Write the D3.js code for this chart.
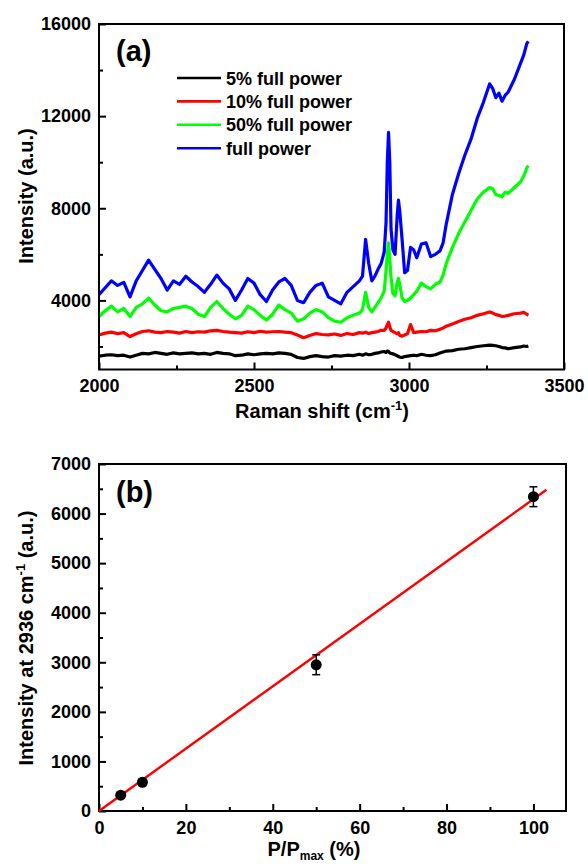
<!DOCTYPE html>
<html lang="en">
<head>
  <meta charset="UTF-8">
  <title>Raman spectra vs laser power</title>
  <script src="https://d3js.org/d3.v7.min.js"></script>
  <style>
    body { margin: 0; background: #fff; }
    svg text { font-family: "Liberation Sans", Arial, sans-serif; font-weight: bold; fill: #000; }
    .axis .domain { display: none; }
    .axis line { stroke: #000; stroke-width: 2; }
  </style>
</head>
<body>
  <svg id="fig" width="588" height="864"></svg>
  <script>
    // ---- panel (a) data: Raman shift (cm-1) and intensity per power level
    const ramanShift = [
      2000,2020,2040,2060,2080,2100,2120,2140,2160,2180,
      2200,2220,2240,2260,2280,2300,2320,2340,2360,2380,
      2400,2420,2440,2460,2480,2500,2520,2540,2560,2580,
      2600,2620,2640,2660,2680,2700,2720,2740,2760,2780,
      2800,2820,2840,2850,2860,2870,2880,2890,2900,2910,
      2920,2926,2930,2934,2938,2942,2948,2955,2962,2966,
      2970,2978,2986,2995,3005,3015,3025,3040,3055,3070,
      3085,3100,3110,3120,3140,3160,3180,3200,3220,3240,
      3260,3270,3280,3290,3300,3310,3320,3340,3360,3370,
      3380,3385
    ];
    const power5 = [
      1580,1620,1640,1600,1620,1540,1620,1700,1680,1740,
      1700,1660,1720,1680,1700,1720,1680,1700,1660,1740,
      1700,1680,1600,1620,1680,1640,1680,1700,1680,1720,
      1700,1660,1520,1480,1560,1600,1560,1540,1600,1580,
      1620,1600,1660,1620,1680,1640,1660,1700,1720,1760,
      1780,1740,1800,1780,1720,1700,1680,1640,1600,1560,
      1540,1520,1560,1580,1600,1620,1600,1660,1620,1600,
      1640,1720,1760,1800,1820,1880,1900,1950,2000,2030,
      2060,2050,2030,2000,1950,1940,1900,1950,1980,2020,
      2000,2020
    ];
    const power10 = [
      2500,2580,2620,2560,2600,2430,2550,2650,2680,2620,
      2600,2650,2620,2580,2650,2600,2640,2620,2680,2700,
      2650,2620,2600,2580,2640,2600,2660,2620,2640,2650,
      2620,2600,2500,2380,2480,2560,2520,2500,2540,2480,
      2560,2520,2600,2580,2620,2560,2600,2620,2650,2700,
      2700,2800,2950,3050,2850,2700,2650,2600,2550,2600,
      2480,2450,2500,2550,2950,2600,2620,2650,2640,2700,
      2680,2750,2800,2880,2980,3080,3180,3250,3350,3420,
      3500,3450,3380,3350,3300,3320,3350,3420,3450,3480,
      3400,3350
    ];
    const power50 = [
      3300,3550,3750,3500,3650,3300,3700,3850,4100,3800,
      3550,3500,3650,3700,3750,3650,3400,3300,3700,3950,
      3650,3400,3200,3350,3750,3600,3350,3150,3400,3800,
      3600,3450,3100,3200,3450,3600,3500,3250,3100,3050,
      3250,3350,3450,3600,4350,3700,3500,3700,3900,4100,
      4400,5300,6000,6500,5800,5000,4300,4200,4800,4950,
      4700,4100,3950,4000,4100,4250,4400,4750,4600,4500,
      4700,4800,5100,5600,6300,6900,7400,7900,8400,8700,
      8900,8850,8600,8550,8500,8700,8650,8900,9150,9400,
      9750,9850
    ];
    const powerFull = [
      4250,4550,4850,4650,4780,4150,4850,5300,5750,5350,
      4950,4450,4850,4700,5050,4800,4600,4350,4700,5100,
      4750,4500,4000,4450,4950,4750,4250,3950,4450,4800,
      4950,4650,4000,3900,4350,4650,4750,4150,4000,3850,
      4350,4600,4850,5050,6650,5600,4850,5050,5350,5600,
      6100,7400,10000,11300,10000,7100,6200,6000,7700,8350,
      7900,6600,5200,5300,6300,6200,5850,6450,6500,5900,
      6000,6150,6500,7300,8600,9500,10300,11000,11900,12600,
      13400,13200,12800,13000,12650,12900,13050,13600,14300,14650,
      15150,15250
    ];
    const seriesLabels = ["5% full power", "10% full power", "50% full power", "full power"];
    const seriesColors = ["#000000", "#ff0000", "#00ff00", "#0000ff"];

    const shiftTicks = [2000, 2500, 3000, 3500];
    const shiftMinor = [2250, 2750, 3250];
    const intensityTicks = [4000, 8000, 12000, 16000];
    const intensityMinor = [2000, 6000, 10000, 14000];

    // ---- panel (b) data: intensity at 2936 cm-1 vs relative power
    const powerPct = [5, 10, 50, 100];
    const peakIntensity = [320, 580, 2950, 6340];
    const peakError = [60, 60, 200, 200];
    const fitX = [0, 103];
    const fitY = [0, 6480];

    const pctTicks = [0, 20, 40, 60, 80, 100];
    const pctMinor = [10, 30, 50, 70, 90];
    const peakTicks = [0, 1000, 2000, 3000, 4000, 5000, 6000, 7000];
    const peakMinor = [500, 1500, 2500, 3500, 4500, 5500, 6500];

    const svg = d3.select("svg#fig");

    // helper: inward ticks with separate minor ticks, box drawn separately
    function drawAxes(g, x, y, xt, xm, yt, ym, xFmt, yFmt) {
      let [x0, x1] = x.range();
      let [y0, y1] = y.range();
      g.append("g").attr("class", "axis")
        .attr("transform", `translate(0,${y0})`)
        .call(d3.axisBottom(x).tickValues(xt).tickSize(-7).tickPadding(10).tickFormat(xFmt))
        .selectAll("text").style("font-size", "18px");
      g.append("g").attr("class", "axis")
        .attr("transform", `translate(0,${y0})`)
        .call(d3.axisBottom(x).tickValues(xm).tickSize(-4).tickFormat(""));
      g.append("g").attr("class", "axis")
        .attr("transform", `translate(${x0},0)`)
        .call(d3.axisLeft(y).tickValues(yt).tickSize(-7).tickPadding(8).tickFormat(yFmt))
        .selectAll("text").style("font-size", "18px");
      g.append("g").attr("class", "axis")
        .attr("transform", `translate(${x0},0)`)
        .call(d3.axisLeft(y).tickValues(ym).tickSize(-4).tickFormat(""));
      g.append("rect")
        .attr("x", x0).attr("y", y1)
        .attr("width", x1 - x0).attr("height", y0 - y1)
        .attr("fill", "none").attr("stroke", "#000").attr("stroke-width", 2);
    }

    // ================= panel (a)
    const xA = d3.scaleLinear().domain([2000, 3500]).range([99, 564]);
    const yA = d3.scaleLinear().domain([1000, 16000]).range([369.5, 24]);
    const panelA = svg.append("g").attr("id", "panelA");

    const spectra = [power5, power10, power50, powerFull];
    const lineA = d3.line()
      .x((d, i) => xA(ramanShift[i]))
      .y(d => yA(d));

    spectra.forEach((s, k) => {
      panelA.append("path")
        .datum(s)
        .attr("fill", "none")
        .attr("stroke", seriesColors[k])
        .attr("stroke-width", 3.2)
        .attr("stroke-linejoin", "round")
        .attr("d", lineA);
    });

    drawAxes(panelA, xA, yA, shiftTicks, shiftMinor, intensityTicks, intensityMinor, d3.format("d"), d3.format("d"));

    // legend
    seriesLabels.forEach((lab, k) => {
      let ly = 78 + k * 23.4;
      panelA.append("line")
        .attr("x1", 177).attr("x2", 221)
        .attr("y1", ly).attr("y2", ly)
        .attr("stroke", seriesColors[k]).attr("stroke-width", 2.6);
      panelA.append("text")
        .attr("x", 226).attr("y", ly + 6.5)
        .style("font-size", "18px")
        .text(lab);
    });

    panelA.append("text")
      .attr("x", 116).attr("y", 61)
      .style("font-size", "29px")
      .text("(a)");

    panelA.append("text")
      .attr("transform", "translate(33,196) rotate(-90)")
      .attr("text-anchor", "middle")
      .style("font-size", "20px")
      .text("Intensity (a.u.)");

    let xTitleA = panelA.append("text")
      .attr("x", 322).attr("y", 418)
      .attr("text-anchor", "middle")
      .style("font-size", "20px");
    xTitleA.append("tspan").text("Raman shift (cm");
    xTitleA.append("tspan").attr("dy", -8).style("font-size", "13px").text("-1");
    xTitleA.append("tspan").attr("dy", 8).text(")");

    // ================= panel (b)
    const xB = d3.scaleLinear().domain([0, 107.5]).range([99, 566]);
    const yB = d3.scaleLinear().domain([0, 7000]).range([811, 464]);
    const panelB = svg.append("g").attr("id", "panelB");

    drawAxes(panelB, xB, yB, pctTicks, pctMinor, peakTicks, peakMinor, d3.format("d"), d3.format("d"));

    panelB.append("path")
      .datum(fitX.map((v, i) => [v, fitY[i]]))
      .attr("fill", "none")
      .attr("stroke", "#ff0000")
      .attr("stroke-width", 2.4)
      .attr("d", d3.line().x(d => xB(d[0])).y(d => yB(d[1])));

    powerPct.forEach((p, i) => {
      let cx = xB(p);
      let top = yB(peakIntensity[i] + peakError[i]);
      let bot = yB(peakIntensity[i] - peakError[i]);
      panelB.append("line")
        .attr("x1", cx).attr("x2", cx).attr("y1", top).attr("y2", bot)
        .attr("stroke", "#000").attr("stroke-width", 1.5);
      [top, bot].forEach(yy => {
        panelB.append("line")
          .attr("x1", cx - 4).attr("x2", cx + 4).attr("y1", yy).attr("y2", yy)
          .attr("stroke", "#000").attr("stroke-width", 1.5);
      });
      panelB.append("circle")
        .attr("cx", cx).attr("cy", yB(peakIntensity[i]))
        .attr("r", 5.5)
        .attr("fill", "#000");
    });

    panelB.append("text")
      .attr("x", 116).attr("y", 502)
      .style("font-size", "29px")
      .text("(b)");

    let yTitleB = panelB.append("text")
      .attr("transform", "translate(33,638) rotate(-90)")
      .attr("text-anchor", "middle")
      .style("font-size", "20px");
    yTitleB.append("tspan").text("Intensity at 2936 cm");
    yTitleB.append("tspan").attr("dy", -8).style("font-size", "13px").text("-1");
    yTitleB.append("tspan").attr("dy", 8).text(" (a.u.)");

    let xTitleB = panelB.append("text")
      .attr("x", 314).attr("y", 856)
      .attr("text-anchor", "middle")
      .style("font-size", "20px");
    xTitleB.append("tspan").text("P/P");
    xTitleB.append("tspan").attr("dy", 4).style("font-size", "12px").text("max");
    xTitleB.append("tspan").attr("dy", -4).text(" (%)");
  </script>
</body>
</html>
